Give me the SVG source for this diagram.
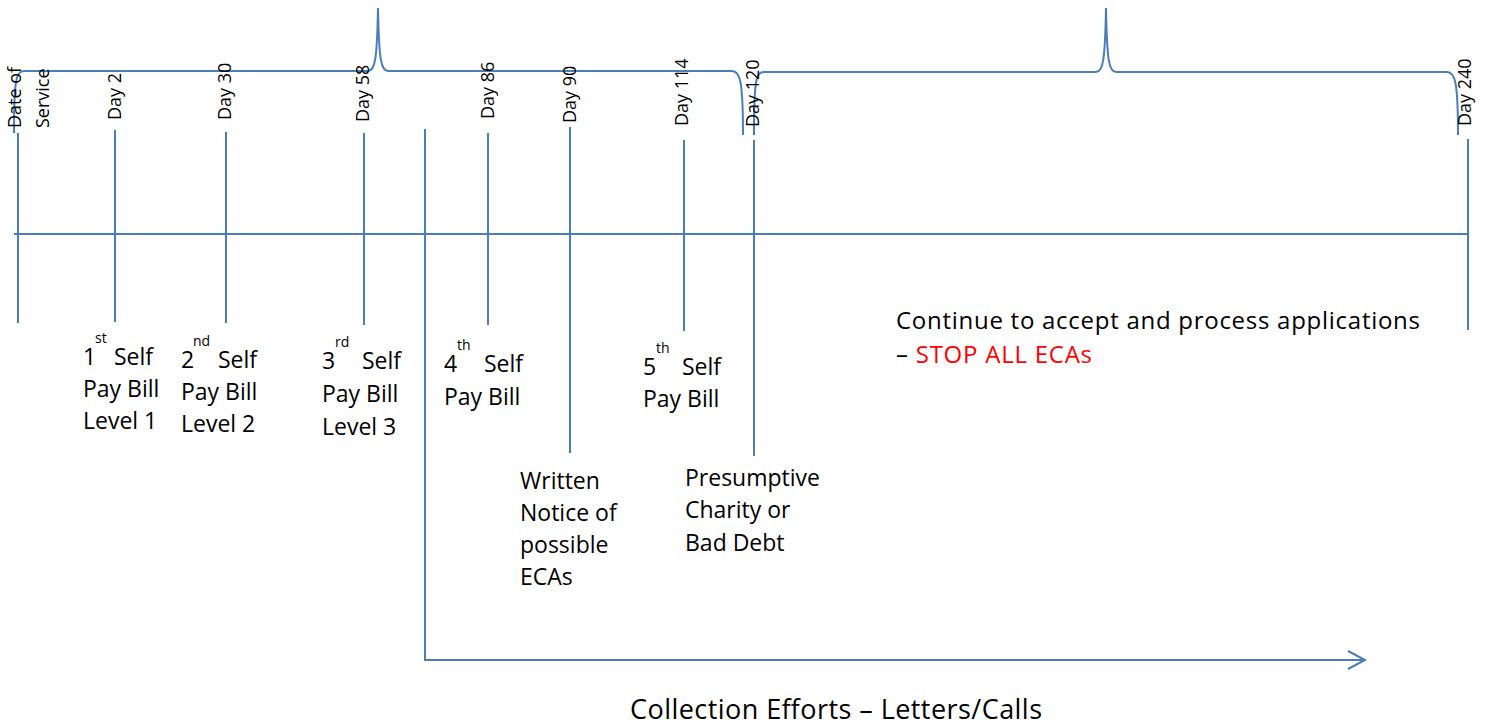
<svg xmlns="http://www.w3.org/2000/svg" width="1487" height="727" viewBox="0 0 1487 727">
<style>
.ln{fill:none;stroke:#4A7EBB;stroke-width:2}
.t{font-family:"Open Sans","Liberation Sans",sans-serif;font-size:23px;fill:#000}
.s{font-size:14px}
.r{font-family:"Open Sans","Liberation Sans",sans-serif;font-size:18px;fill:#000}
.red{fill:#FF0000}
</style>
<rect width="1487" height="727" fill="#fff"/>
<g id="connectors">
<path class="ln" d="M14,133 C14,80 16,71 24,71 L368,71 C375,71 377,60 378,8 C379,60 381,71 388,71 L732,71 C740,71 743,80 743,135"/>
<path class="ln" d="M754,135 C754,80 756,72 764,72 L1096,72 C1103,72 1105,61 1106,8 C1107,61 1109,72 1116,72 L1447,72 C1455,72 1458,81 1458,135"/>
<line class="ln" x1="14" y1="234" x2="1468" y2="234"/>
<line class="ln" x1="18" y1="133" x2="18" y2="323"/>
<line class="ln" x1="115" y1="130" x2="115" y2="322"/>
<line class="ln" x1="226" y1="132" x2="226" y2="323"/>
<line class="ln" x1="364" y1="133" x2="364" y2="325"/>
<line class="ln" x1="488" y1="133" x2="488" y2="325"/>
<line class="ln" x1="570" y1="127" x2="570" y2="453"/>
<line class="ln" x1="684" y1="140" x2="684" y2="331"/>
<line class="ln" x1="754" y1="140" x2="754" y2="456"/>
<line class="ln" x1="1468" y1="139" x2="1468" y2="330"/>
<path class="ln" d="M425,129 L425,660 L1364,660"/>
<path class="ln" d="M1348,651 L1365,660 L1348,669"/>
</g>
<g id="dos"><text class="r" transform="translate(21,128) rotate(-90)">Date of</text><text class="r" transform="translate(49,128) rotate(-90)">Service</text></g>
<g id="day2"><text class="r" transform="translate(121,120) rotate(-90)">Day 2</text>
<text class="t" x="83" y="365">1<tspan class="s" x="95" y="343">st</tspan><tspan x="114" y="365">Self</tspan></text>
<text class="t" x="83" y="397">Pay Bill</text><text class="t" x="83" y="429">Level 1</text></g>
<g id="day30"><text class="r" transform="translate(231,120) rotate(-90)">Day 30</text>
<text class="t" x="181" y="368">2<tspan class="s" x="193" y="346">nd</tspan><tspan x="218" y="368">Self</tspan></text>
<text class="t" x="181" y="400">Pay Bill</text><text class="t" x="181" y="432">Level 2</text></g>
<g id="day58"><text class="r" transform="translate(369,122) rotate(-90)">Day 58</text>
<text class="t" x="322" y="369">3<tspan class="s" x="335" y="347">rd</tspan><tspan x="362" y="369">Self</tspan></text>
<text class="t" x="322" y="402">Pay Bill</text><text class="t" x="322" y="435">Level 3</text></g>
<g id="day86"><text class="r" transform="translate(494,119) rotate(-90)">Day 86</text>
<text class="t" x="444" y="372">4<tspan class="s" x="457" y="350">th</tspan><tspan x="484" y="372">Self</tspan></text>
<text class="t" x="444" y="405">Pay Bill</text></g>
<g id="day90"><text class="r" transform="translate(576,123) rotate(-90)">Day 90</text>
<text class="t" x="520" y="489">Written</text><text class="t" x="520" y="521">Notice of</text><text class="t" x="520" y="553">possible</text><text class="t" x="520" y="585">ECAs</text></g>
<g id="day114"><text class="r" transform="translate(688,126) rotate(-90)">Day 114</text>
<text class="t" x="643" y="375">5<tspan class="s" x="656" y="353">th</tspan><tspan x="682" y="375">Self</tspan></text>
<text class="t" x="643" y="407">Pay Bill</text></g>
<g id="day120"><text class="r" transform="translate(759,127) rotate(-90)">Day 120</text>
<text class="t" x="685" y="486">Presumptive</text><text class="t" x="685" y="518">Charity or</text><text class="t" x="685" y="551">Bad Debt</text></g>
<g id="day240"><text class="r" transform="translate(1471,126) rotate(-90)">Day 240</text>
<text class="t" x="896" y="329" style="font-size:24px" textLength="524">Continue to accept and process applications</text>
<text class="t" x="896" y="363" style="font-size:24px" textLength="196">– <tspan class="red">STOP ALL ECAs</tspan></text></g>
<g id="collection"><text class="t" x="630" y="719" style="font-size:27px" textLength="412">Collection Efforts – Letters/Calls</text></g>
</svg>
